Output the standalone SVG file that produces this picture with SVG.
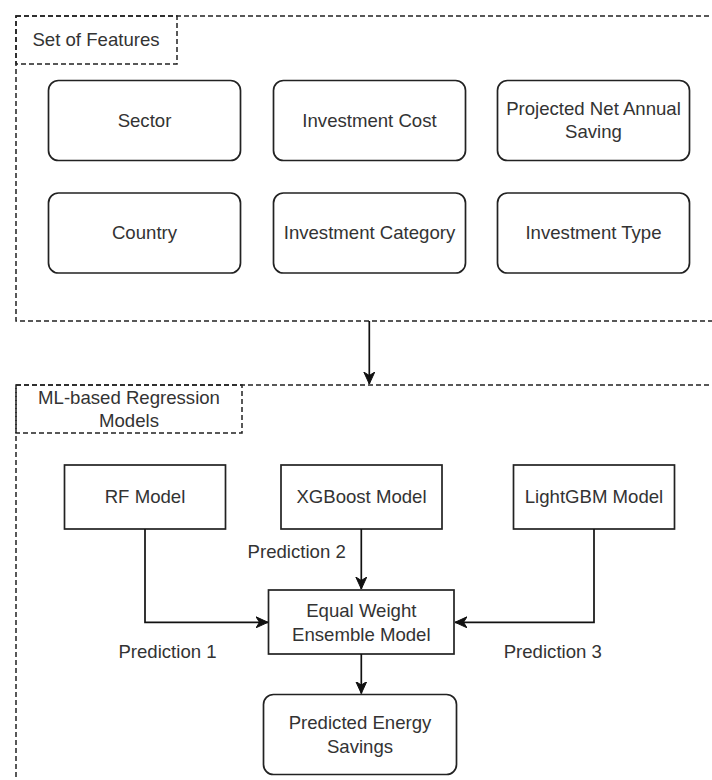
<svg xmlns="http://www.w3.org/2000/svg" width="712" height="780" viewBox="0 0 712 780">
<style>
.t{font-family:"Liberation Sans",Arial,Helvetica,sans-serif;font-size:18.6px;fill:#333;text-anchor:middle}
.tl{font-family:"Liberation Sans",Arial,Helvetica,sans-serif;font-size:18.6px;fill:#333}
.box{fill:#fff;stroke:#222;stroke-width:1.7}
.dash{fill:none;stroke:#222;stroke-width:1.5;stroke-dasharray:5 3}
.edge{fill:none;stroke:#111;stroke-width:1.7}
</style>
<defs>
<marker id="arr" markerUnits="userSpaceOnUse" markerWidth="14" markerHeight="12" refX="12" refY="6" orient="auto">
<path d="M0,0.5 L12,6 L0,11.5 L3.5,6 Z" fill="#111" stroke="#111" stroke-width="1"/>
</marker>
</defs>
<rect width="712" height="780" fill="#fff"/>
<g id="features-group">
<rect class="dash" x="16" y="16" width="720" height="305"/>
<rect class="dash" x="16" y="16" width="161" height="48"/>
<text class="t" x="96" y="46">Set of Features</text>
</g>
<g id="sector"><rect class="box" x="48.5" y="80.5" width="192" height="80" rx="10"/><text class="t" x="144.5" y="127">Sector</text></g>
<g id="investment-cost"><rect class="box" x="273.5" y="80.5" width="192" height="80" rx="10"/><text class="t" x="369.5" y="127">Investment Cost</text></g>
<g id="projected-saving"><rect class="box" x="497.5" y="80.5" width="192" height="80" rx="10"/><text class="t" x="593.5" y="115">Projected Net Annual</text><text class="t" x="593.5" y="138.3">Saving</text></g>
<g id="country"><rect class="box" x="48.5" y="193" width="192" height="80" rx="10"/><text class="t" x="144.5" y="239">Country</text></g>
<g id="investment-category"><rect class="box" x="273.5" y="193" width="192" height="80" rx="10"/><text class="t" x="369.5" y="239">Investment Category</text></g>
<g id="investment-type"><rect class="box" x="497.5" y="193" width="192" height="80" rx="10"/><text class="t" x="593.5" y="239">Investment Type</text></g>
<g id="ml-group">
<rect class="dash" x="16" y="385" width="720" height="420"/>
<rect class="dash" x="16" y="385" width="226" height="48"/>
<text class="t" x="129" y="404">ML-based Regression</text>
<text class="t" x="129" y="427.3">Models</text>
</g>
<g id="rf-model"><rect class="box" x="64.5" y="465" width="161" height="64"/><text class="t" x="145" y="503.3">RF Model</text></g>
<g id="xgboost-model"><rect class="box" x="281" y="465" width="161" height="64"/><text class="t" x="361.5" y="503.3">XGBoost Model</text></g>
<g id="lightgbm-model"><rect class="box" x="513.5" y="465" width="161" height="64"/><text class="t" x="594" y="503.3">LightGBM Model</text></g>
<g id="ensemble"><rect class="box" x="268.5" y="590" width="185.5" height="64"/><text class="t" x="361.3" y="616.7">Equal Weight</text><text class="t" x="361.3" y="640.7">Ensemble Model</text></g>
<g id="predicted-savings"><rect class="box" x="263.5" y="694.5" width="193" height="80" rx="10"/><text class="t" x="360" y="729.3">Predicted Energy</text><text class="t" x="360" y="752.7">Savings</text></g>
<g id="connectors">
<path class="edge" d="M369.3,321 L369.3,384" marker-end="url(#arr)"/>
<path class="edge" d="M145,529 L145,622.3 L268,622.3" marker-end="url(#arr)"/>
<path class="edge" d="M361.3,529 L361.3,589" marker-end="url(#arr)"/>
<path class="edge" d="M594,529 L594,622.3 L455,622.3" marker-end="url(#arr)"/>
<path class="edge" d="M361.3,654 L361.3,693.5" marker-end="url(#arr)"/>
<text class="t" x="296.7" y="558.3">Prediction 2</text>
<text class="t" x="167.5" y="658.3">Prediction 1</text>
<text class="t" x="552.8" y="658.3">Prediction 3</text>
</g>
</svg>
